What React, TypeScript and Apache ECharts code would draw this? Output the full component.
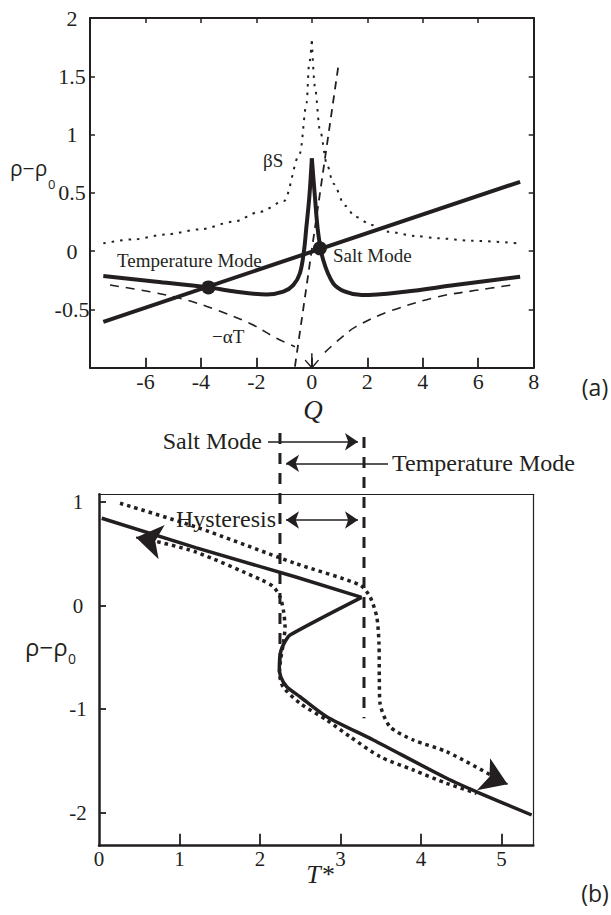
import React, { useEffect, useRef } from 'react';
import * as echarts from 'echarts';

const INK = '#231f20';
const SERIF = '"Liberation Serif", "Times New Roman", serif';
const SANS = '"Open Sans", sans-serif';

// ---------- Panel (a): density components vs Q ----------
const A_X_LABELS_HIDDEN = [-8];
const BETA_S_LEFT: [number, number][] = [
  [-7.52, 0.067], [-6.44, 0.101], [-5.23, 0.144], [-4.03, 0.187], [-2.83, 0.252],
  [-1.87, 0.338], [-1.0, 0.43], [-0.43, 0.84], [-0.19, 1.27], [-0.1, 1.6], [0, 1.8],
];
const BETA_S_RIGHT: [number, number][] = [
  [0, 1.8], [0.11, 1.41], [0.29, 1.04], [0.55, 0.74], [0.77, 0.58], [1.2, 0.39], [1.56, 0.295],
  [2.16, 0.224], [2.76, 0.166], [3.72, 0.13], [4.56, 0.11], [5.76, 0.089], [7.45, 0.067],
];
const MINUS_ALPHA_T_LEFT: [number, number][] = [
  [-7.28, -0.291], [-5.84, -0.348], [-4.51, -0.42], [-3.43, -0.505], [-2.23, -0.62],
  [-1.27, -0.748], [-0.61, -0.82],
];
const MINUS_ALPHA_T_RIGHT: [number, number][] = [
  [0.47, -0.868], [1.0, -0.755], [1.56, -0.652], [2.76, -0.52], [4.56, -0.391], [6.0, -0.334], [7.21, -0.291],
];
const STEEP_DASHED: [number, number][] = [[-0.61, -0.99], [0.95, 1.58]];
const RHO_TOTAL_LEFT: [number, number][] = [
  [-7.52, -0.214], [-5.6, -0.262], [-3.73, -0.311], [-2.83, -0.345], [-1.63, -0.372],
  [-1.03, -0.348], [-0.67, -0.291], [-0.43, -0.19], [-0.28, 0.01], [-0.2, 0.2], [-0.09, 0.467],
  [0, 0.796],
];
const RHO_TOTAL_RIGHT: [number, number][] = [
  [0, 0.796], [0.11, 0.467], [0.23, 0.153], [0.41, -0.076], [0.77, -0.276], [1.2, -0.348],
  [1.8, -0.377], [3.36, -0.348], [5.16, -0.291], [7.51, -0.22],
];
const RHO_LINE: [number, number][] = [[-7.52, -0.606], [7.51, 0.595]];
const MODES_A: [number, number][] = [[-3.73, -0.311], [0.29, 0.024]];
const ARROW_A_STEM: [number, number][] = [[0, -0.877], [0, -1.0]];
const ARROW_A_HEAD: [number, number][] = [[-0.24, -0.935], [0, -1.0], [0.24, -0.935]];

// ---------- Panel (b): hysteresis vs T* ----------
const B_X_TICKS = [1, 2, 3, 4, 5];
const B_X_LABELS = [0, 1, 2, 3, 4, 5];
const B_Y_TICKS = [-2, -1, 0, 1];
const SOLID_UPPER: [number, number][] = [[0.034, 0.844], [1.2, 0.56], [2.435, 0.279], [3.263, 0.08]];
const SOLID_LOWER: [number, number][] = [
  [3.263, 0.08], [2.373, -0.284], [2.311, -0.349], [2.257, -0.446], [2.24, -0.591],
  [2.257, -0.687], [2.332, -0.784], [2.497, -0.881], [2.829, -1.074], [3.407, -1.299],
  [4.319, -1.669], [4.733, -1.814], [5.375, -2.024],
];
const DOTTED_UPPER: [number, number][] = [
  [0.261, 0.989], [1.193, 0.763], [2.435, 0.409], [3.242, 0.199], [3.366, 0.086],
  [3.45, -0.107], [3.478, -0.361], [3.482, -0.7], [3.491, -0.944], [3.615, -1.171],
  [3.904, -1.299], [4.319, -1.412], [4.94, -1.669],
];
const DOTTED_LOWER: [number, number][] = [
  [0.634, 0.634], [1.193, 0.521], [2.021, 0.247], [2.165, 0.183], [2.248, 0.086],
  [2.29, -0.043], [2.311, -0.204], [2.29, -0.364], [2.255, -0.526], [2.24, -0.642],
  [2.286, -0.784], [2.497, -0.944], [2.829, -1.106], [3.118, -1.267], [3.491, -1.46],
  [3.904, -1.589], [4.319, -1.718], [4.692, -1.814],
];
const DASH_LEFT: [number, number][] = [[2.248, 1.668], [2.248, -0.62]];
const DASH_RIGHT: [number, number][] = [[3.292, 1.63], [3.292, -1.089]];
const SALT_ARROW: [number, number][] = [[2.099, 1.584], [3.217, 1.584]];
const TEMP_ARROW: [number, number][] = [[3.59, 1.375], [2.323, 1.375]];
const HYST_ARROW: [number, number][] = [[2.323, 0.827], [3.217, 0.827]];
const LEFT_HEAD: [number, number][] = [[0.634, 0.634], [0.46, 0.658]];
const RIGHT_HEAD: [number, number][] = [[4.919, -1.676], [5.075, -1.726]];

const lineA = (data: any, style: any, extra: any = {}) => ({
  type: 'line', xAxisIndex: 0, yAxisIndex: 0, data, symbol: 'none', showSymbol: false,
  lineStyle: { color: INK, cap: 'butt', ...style }, z: 3, ...extra,
});
const lineB = (data: any, style: any, extra: any = {}) => ({
  type: 'line', xAxisIndex: 2, yAxisIndex: 2, data, symbol: 'none', showSymbol: false,
  lineStyle: { color: INK, cap: 'butt', ...style }, z: 3, ...extra,
});
const arrowB = (coords: any, symbol: any, size: number, width: number) => ({
  type: 'lines', coordinateSystem: 'cartesian2d', xAxisIndex: 2, yAxisIndex: 2,
  clip: false, symbol, symbolSize: size, z: 4,
  lineStyle: { color: INK, width, opacity: 1, type: 'solid' },
  data: [{ coords }],
});

const txt = (text: string, x: number, y: number, o: any = {}) => ({
  type: 'text', x, y, z: 10,
  style: {
    text, fill: INK, fontFamily: o.family || SERIF, fontSize: o.size || 19,
    fontStyle: o.italic ? 'italic' : 'normal', align: o.align || 'left', verticalAlign: 'middle',
  },
});

export default function App() {
  const ref = useRef<HTMLDivElement>(null);
  useEffect(() => {
    const chart = echarts.init(ref.current!, null, { renderer: 'svg' });
    const tickLbl = { color: INK, fontFamily: SERIF };
    const smoothX = { smooth: 0.3, smoothMonotone: 'x' };
    const smoothP = { smooth: 0.35 };
    chart.setOption({
      animation: false,
      backgroundColor: '#ffffff',
      textStyle: { fontFamily: SERIF },
      grid: [
        { left: 90, top: 18, width: 443.7, height: 349.7, outerBoundsMode: 'none' },
        { left: 99, top: 494.3, width: 434.3, height: 351.4, outerBoundsMode: 'none' },
      ],
      xAxis: [
        {
          gridIndex: 0, type: 'value', min: -8, max: 8, interval: 2, position: 'bottom',
          axisLine: { onZero: false, lineStyle: { color: INK, width: 2 } },
          axisTick: { inside: true, length: 10, lineStyle: { color: INK, width: 1.8 } },
          axisLabel: {
            ...tickLbl, fontSize: 22, margin: 3, showMinLabel: true, showMaxLabel: true,
            formatter: (v: number) => (A_X_LABELS_HIDDEN.includes(v) ? '' : String(v)),
          },
          splitLine: { show: false },
        },
        {
          gridIndex: 0, type: 'value', min: -8, max: 8, interval: 2, position: 'top',
          axisLine: { onZero: false, lineStyle: { color: INK, width: 2 } },
          axisTick: { inside: true, length: 5, lineStyle: { color: INK, width: 1.5 } },
          axisLabel: { show: false }, splitLine: { show: false },
        },
        {
          gridIndex: 1, type: 'value', min: 0, max: 5.395, position: 'bottom',
          axisLine: { onZero: false, lineStyle: { color: INK, width: 2.5 } },
          axisTick: { inside: true, length: 12, customValues: B_X_TICKS, lineStyle: { color: INK, width: 1.8 } },
          axisLabel: { ...tickLbl, fontSize: 21, margin: 3, customValues: B_X_LABELS },
          splitLine: { show: false },
        },
        {
          gridIndex: 1, type: 'value', min: 0, max: 5.395, position: 'top',
          axisLine: { onZero: false, lineStyle: { color: INK, width: 1.2 } },
          axisTick: { show: false }, axisLabel: { show: false }, splitLine: { show: false },
        },
      ],
      yAxis: [
        {
          gridIndex: 0, type: 'value', min: -1, max: 2, interval: 0.5, position: 'left',
          axisLine: { onZero: false, lineStyle: { color: INK, width: 2 } },
          axisTick: { inside: true, length: 5, lineStyle: { color: INK, width: 1.5 } },
          axisLabel: { ...tickLbl, fontSize: 22, margin: 18, align: 'center', showMinLabel: false },
          splitLine: { show: false },
        },
        {
          gridIndex: 0, type: 'value', min: -1, max: 2, interval: 0.5, position: 'right',
          axisLine: { onZero: false, lineStyle: { color: INK, width: 2 } },
          axisTick: { inside: true, length: 5, lineStyle: { color: INK, width: 1.5 } },
          axisLabel: { show: false }, splitLine: { show: false },
        },
        {
          gridIndex: 1, type: 'value', min: -2.3207, max: 1.0758, position: 'left',
          axisLine: { onZero: false, lineStyle: { color: INK, width: 2.5 } },
          axisTick: { inside: true, length: 7, customValues: B_Y_TICKS, lineStyle: { color: INK, width: 1.8 } },
          axisLabel: { ...tickLbl, fontSize: 21, margin: 21, align: 'center', customValues: B_Y_TICKS },
          splitLine: { show: false },
        },
        {
          gridIndex: 1, type: 'value', min: -2.3207, max: 1.0758, position: 'right',
          axisLine: { onZero: false, lineStyle: { color: INK, width: 1.2 } },
          axisTick: { show: false }, axisLabel: { show: false }, splitLine: { show: false },
        },
      ],
      series: [
        // panel (a)
        lineA(BETA_S_LEFT, { width: 2, type: [2.5, 6] }, smoothX),
        lineA(BETA_S_RIGHT, { width: 2, type: [2.5, 6] }, smoothX),
        lineA(MINUS_ALPHA_T_LEFT, { width: 1.6, type: [9, 7] }, smoothP),
        lineA(MINUS_ALPHA_T_RIGHT, { width: 1.6, type: [9, 7] }, smoothP),
        lineA(STEEP_DASHED, { width: 1.8, type: [8, 6] }),
        lineA(RHO_TOTAL_LEFT, { width: 4, join: 'round' }, smoothP),
        lineA(RHO_TOTAL_RIGHT, { width: 4, join: 'round' }, smoothP),
        lineA(RHO_LINE, { width: 4 }),
        lineA(ARROW_A_STEM, { width: 1.5 }, { clip: false }),
        lineA(ARROW_A_HEAD, { width: 1.5 }, { clip: false }),
        {
          type: 'scatter', xAxisIndex: 0, yAxisIndex: 0, data: MODES_A, symbol: 'circle',
          symbolSize: 14, itemStyle: { color: INK, opacity: 1 }, z: 5,
        },
        // panel (b)
        lineB(SOLID_UPPER, { width: 3.5 }),
        lineB(SOLID_LOWER, { width: 3.5, join: 'round' }, { smooth: 0.25 }),
        lineB(DOTTED_UPPER, { width: 3.5, type: [3.5, 4] }, { smooth: 0.25 }),
        lineB(DOTTED_LOWER, { width: 3.5, type: [3.5, 4] }, { smooth: 0.25 }),
        lineB(DASH_LEFT, { width: 3, type: [11, 9] }, { clip: false }),
        lineB(DASH_RIGHT, { width: 3, type: [11, 9] }, { clip: false }),
        arrowB(SALT_ARROW, ['none', 'arrow'], 13, 1.5),
        arrowB(TEMP_ARROW, ['none', 'arrow'], 13, 1.5),
        arrowB(HYST_ARROW, ['arrow', 'arrow'], 13, 1.5),
        arrowB(LEFT_HEAD, ['none', 'arrow'], 26, 2),
        arrowB(RIGHT_HEAD, ['none', 'arrow'], 26, 2),
      ],
      graphic: [
        txt('ρ−ρ', 10, 168, { family: SANS, size: 21 }),
        txt('0', 48, 184, { family: SANS, size: 13 }),
        txt('Q', 313, 410, { size: 27, italic: true, align: 'center' }),
        txt('(a)', 595, 387, { family: SANS, size: 23, align: 'center' }),
        txt('βS', 263, 160, { size: 19 }),
        txt('−αT', 212, 336, { size: 19 }),
        txt('Temperature Mode', 117, 260, { size: 19 }),
        txt('Salt Mode', 333, 255, { size: 19 }),
        txt('ρ−ρ', 25, 646, { family: SANS, size: 24 }),
        txt('0', 68, 658, { family: SANS, size: 14 }),
        txt('T*', 320, 874, { size: 26, italic: true, align: 'center' }),
        txt('(b)', 595, 893, { family: SANS, size: 23, align: 'center' }),
        txt('Salt Mode', 262, 441, { size: 24, align: 'right' }),
        txt('Temperature Mode', 392, 463, { size: 24 }),
        txt('Hysteresis', 276, 519, { size: 24, align: 'right' }),
      ],
    });
    return () => chart.dispose();
  }, []);
  return (
    <div
      ref={ref}
      style={{ position: 'absolute', left: 0, top: 0, width: 611, height: 915, background: '#fff' }}
    />
  );
}
